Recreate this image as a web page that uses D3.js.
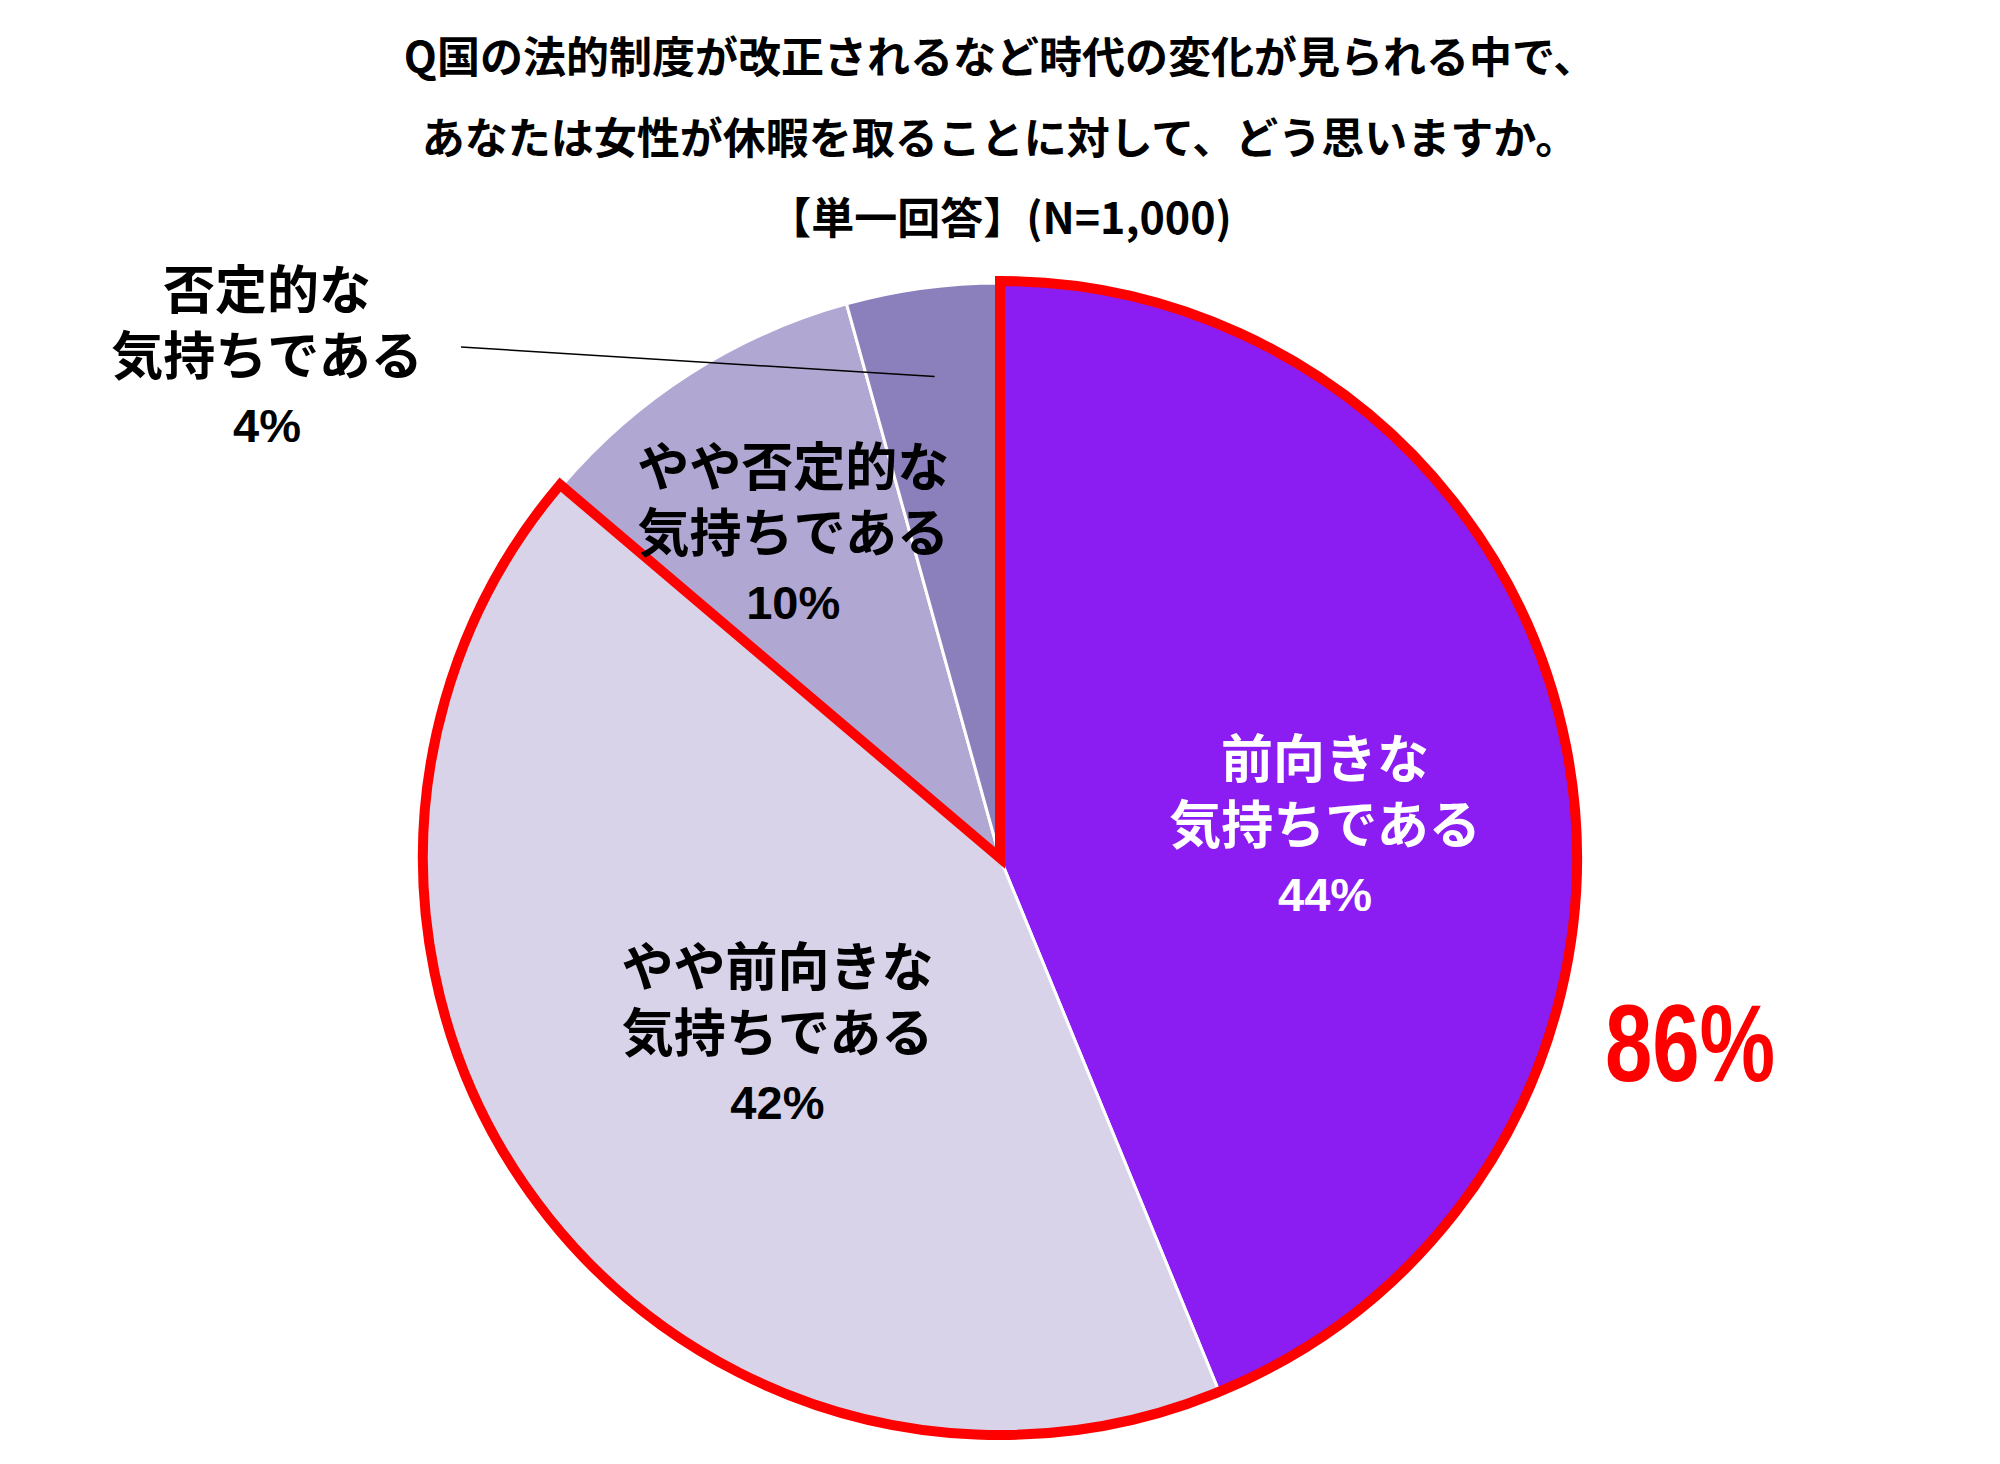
<!DOCTYPE html>
<html lang="ja">
<head>
    <meta charset="UTF-8">
    <title>女性が休暇を取ることに対して</title>
    <script src="https://d3js.org/d3.v7.min.js"></script>
    <style>
        body {
            margin: 0;
            background: #fff;
            font-family: "Noto Sans CJK JP", "Noto Sans", sans-serif;
        }
        .title {
            font-size: 43px;
            font-weight: bold;
        }
        .lbl {
            font-size: 52px;
            font-weight: bold;
        }
        .pct {
            font-family: "Liberation Sans Narrow", "Liberation Sans", Arial, sans-serif;
            font-size: 47px;
            font-weight: bold;
        }
    </style>
</head>
<body>
    <div id="chart"></div>

    <script>
        // data
        const titleLines = [
            "Q国の法的制度が改正されるなど時代の変化が見られる中で、",
            "あなたは女性が休暇を取ることに対して、どう思いますか。",
            "【単一回答】(N=1,000)"
        ];
        const categories = ["前向きな気持ちである", "やや前向きな気持ちである", "やや否定的な気持ちである", "否定的な気持ちである"];
        const labelLines = [
            ["前向きな", "気持ちである"],
            ["やや前向きな", "気持ちである"],
            ["やや否定的な", "気持ちである"],
            ["否定的な", "気持ちである"]
        ];
        const values = [43.8, 42.4, 9.5, 4.3];
        const colors = ["#8b1cf2", "#d8d3e8", "#b1a7d3", "#8c80bc"];
        const labelColors = ["#fff", "#000", "#000", "#000"];
        const highlightCount = 2; // first two slices summed and outlined

        const W = 2000, H = 1464;
        const cx = 1000, cy = 858, R = 575;

        const svg = d3.select("#chart")
            .append("svg")
            .attr("width", W)
            .attr("height", H);

        // title
        svg.selectAll(".title")
            .data(titleLines)
            .enter().append("text")
            .attr("class", "title")
            .attr("x", cx)
            .attr("y", (d, i) => 54 + i * 80.5)
            .attr("text-anchor", "middle")
            .attr("dominant-baseline", "central")
            .text(d => d);

        const pie = d3.pie().sort(null).value(d => d);
        const arcs = pie(values);
        const arc = d3.arc().innerRadius(0).outerRadius(R);

        const g = svg.append("g")
            .attr("transform", `translate(${cx},${cy})`);

        g.selectAll(".slice")
            .data(arcs)
            .enter().append("path")
            .attr("class", "slice")
            .attr("d", arc)
            .attr("fill", (d, i) => colors[i])
            .attr("stroke", "#fff")
            .attr("stroke-width", 3);

        // red outline around the positive answers
        const posEnd = arcs[highlightCount - 1].endAngle;
        g.append("path")
            .attr("d", d3.arc().innerRadius(0).outerRadius(R + 2)({ startAngle: 0, endAngle: posEnd }))
            .attr("fill", "none")
            .attr("stroke", "#ff0000")
            .attr("stroke-width", 10)
            .attr("stroke-linejoin", "miter");

        // label placement: fraction of radius + small angle nudge (deg)
        const place = [
            { k: 0.568, nudge: 5.6 },
            { k: 0.494, nudge: -2.4 },
            { k: 0.668, nudge: 0 }
        ];

        function polar(a, r) {
            return [Math.sin(a) * r, -Math.cos(a) * r];
        }

        // one text element per label, lines as tspans
        function drawLabel(x, y, i) {
            const t = g.append("text")
                .attr("transform", `translate(${x},${y})`)
                .attr("text-anchor", "middle")
                .attr("fill", labelColors[i]);
            labelLines[i].forEach((line, j) => {
                t.append("tspan")
                    .attr("class", "lbl")
                    .attr("x", 0)
                    .attr("y", (j - 1) * 66 + 18)
                    .text(line);
            });
            t.append("tspan")
                .attr("class", "pct")
                .attr("x", 0)
                .attr("y", 68 + 17)
                .text(Math.round(values[i]) + "%");
        }

        arcs.slice(0, 3).forEach((d, i) => {
            const a = (d.startAngle + d.endAngle) / 2 + place[i].nudge * Math.PI / 180;
            const [x, y] = polar(a, R * place[i].k);
            drawLabel(x, y, i);
        });

        // outside label for the smallest slice with a leader line
        const last = arcs[3];
        const lastMid = (last.startAngle + last.endAngle) / 2;
        const [lx, ly] = polar(lastMid, R * 0.845);
        g.append("line")
            .attr("x1", 461 - cx)
            .attr("y1", 347 - cy)
            .attr("x2", lx)
            .attr("y2", ly)
            .attr("stroke", "#000")
            .attr("stroke-width", 1.5);
        drawLabel(267 - cx, 357 - cy, 3);

        // total of the positive answers
        const posTotal = d3.sum(values.slice(0, highlightCount));
        svg.append("text")
            .attr("class", "pct")
            .attr("transform", `translate(${cx + 690},${cy + 186}) scale(0.78,1)`)
            .attr("text-anchor", "middle")
            .attr("dominant-baseline", "central")
            .attr("fill", "#ff0000")
            .style("font-family", "'Liberation Sans', Arial, sans-serif")
            .style("font-size", "109px")
            .text(Math.round(posTotal) + "%");
    </script>
</body>
</html>
